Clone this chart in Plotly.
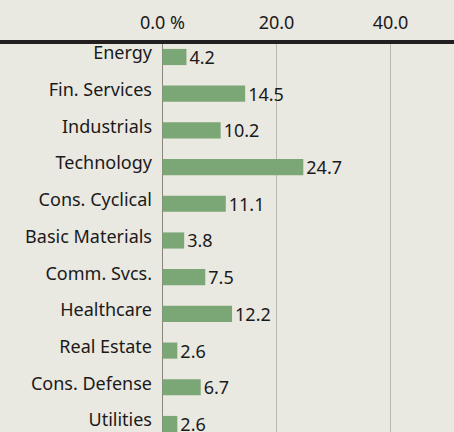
import plotly.graph_objects as go

categories = ["Energy", "Fin. Services", "Industrials", "Technology", "Cons. Cyclical",
              "Basic Materials", "Comm. Svcs.", "Healthcare", "Real Estate",
              "Cons. Defense", "Utilities"]
values = [4.2, 14.5, 10.2, 24.7, 11.1, 3.8, 7.5, 12.2, 2.6, 6.7, 2.6]
tick_vals = [0, 20, 40]
tick_text = ["0.0 %", "20.0", "40.0"]

BG = "#e9e8e1"
FONT = "Noto Sans"
FS = 18

fig = go.Figure(go.Bar(
    x=values, y=categories, orientation="h",
    marker=dict(color="#7ba776", line=dict(width=0)),
    width=0.44,
    text=[f"{v:.1f}" for v in values],
    textposition="outside",
    constraintext="none",
    textfont=dict(family=FONT, size=FS, color="#1a1a1a"),
    cliponaxis=False,
))

fig.update_layout(
    width=454, height=432,
    margin=dict(l=162, r=0, t=44, b=0),
    paper_bgcolor=BG, plot_bgcolor=BG,
    showlegend=False,
    font=dict(family=FONT, size=FS, color="#1a1a1a"),
    xaxis=dict(
        side="top", range=[-0.09, 51.14],
        tickvals=tick_vals, ticktext=tick_text,
        showgrid=True, gridcolor="#b8b7ad", gridwidth=1,
        zeroline=True, zerolinecolor="#8a857a", zerolinewidth=1,
        ticks="", ticklabelstandoff=10,
        tickfont=dict(family=FONT, size=FS, color="#1a1a1a"),
        fixedrange=True,
    ),
    yaxis=dict(
        categoryorder="array", categoryarray=categories,
        range=[10.218, -0.354],
        showgrid=False, zeroline=False, ticks="",
        ticklabelstandoff=9, ticklabelshift=4,
        tickfont=dict(family=FONT, size=FS, color="#1a1a1a"),
    ),
    shapes=[dict(
        type="line", xref="paper", yref="paper",
        x0=-162/292, x1=1, y0=1 + 2/388, y1=1 + 2/388,
        line=dict(color="#231f20", width=4),
    )],
)

fig.write_html("out.html")
